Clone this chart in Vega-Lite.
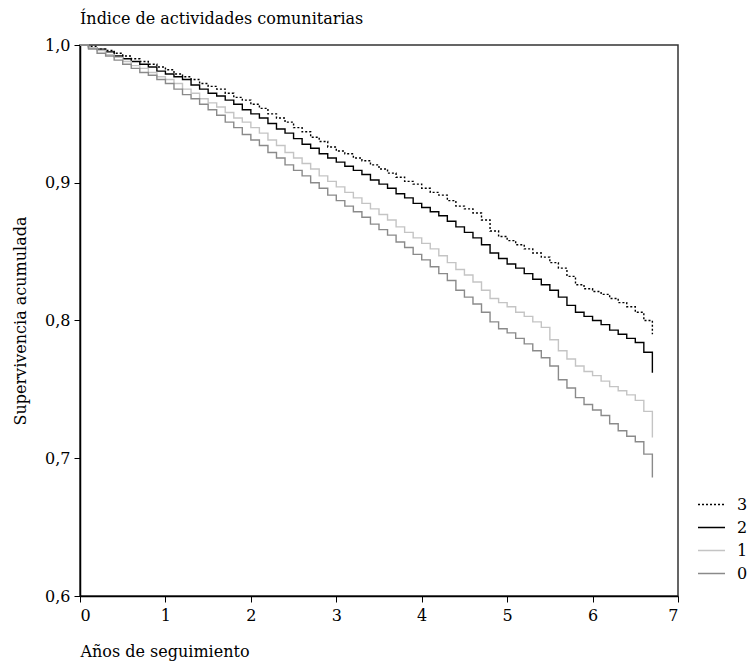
{
  "$schema": "https://vega.github.io/schema/vega-lite/v6.json",
  "autosize": {"type": "none"},
  "padding": {"left": 80, "top": 45, "right": 70, "bottom": 65},
  "width": 598,
  "height": 551,
  "background": "white",
  "title": {"text": "Índice de actividades comunitarias", "anchor": "start", "frame": "group", "offset": 10, "font": "DejaVu Serif", "fontSize": 16, "fontWeight": "normal", "color": "black"},
  "config": {
    "view": {"stroke": "#333333", "strokeWidth": 1.5},
    "axis": {"labelFont": "DejaVu Serif", "labelFontSize": 16, "labelColor": "black", "titleFont": "DejaVu Serif", "titleFontSize": 16, "titleFontWeight": "normal", "titleColor": "black", "domainColor": "black", "domainWidth": 1.5, "tickColor": "black", "tickSize": 6, "grid": false}
  },
  "data": {"values": [
    {"t":0.0,"3":1.000,"2":1.000,"1":1.000,"0":1.000},
    {"t":0.1,"3":0.999,"2":0.998,"1":0.998,"0":0.997},
    {"t":0.2,"3":0.997,"2":0.997,"1":0.996,"0":0.994},
    {"t":0.3,"3":0.996,"2":0.995,"1":0.993,"0":0.992},
    {"t":0.4,"3":0.994,"2":0.992,"1":0.991,"0":0.989},
    {"t":0.5,"3":0.992,"2":0.990,"1":0.988,"0":0.986},
    {"t":0.6,"3":0.990,"2":0.988,"1":0.985,"0":0.983},
    {"t":0.7,"3":0.988,"2":0.986,"1":0.983,"0":0.980},
    {"t":0.8,"3":0.986,"2":0.984,"1":0.980,"0":0.978},
    {"t":0.9,"3":0.984,"2":0.981,"1":0.977,"0":0.975},
    {"t":1.0,"3":0.982,"2":0.979,"1":0.975,"0":0.972},
    {"t":1.1,"3":0.979,"2":0.977,"1":0.972,"0":0.968},
    {"t":1.2,"3":0.977,"2":0.975,"1":0.968,"0":0.964},
    {"t":1.3,"3":0.975,"2":0.971,"1":0.965,"0":0.961},
    {"t":1.4,"3":0.972,"2":0.968,"1":0.961,"0":0.957},
    {"t":1.5,"3":0.970,"2":0.965,"1":0.958,"0":0.953},
    {"t":1.6,"3":0.968,"2":0.963,"1":0.955,"0":0.949},
    {"t":1.7,"3":0.965,"2":0.960,"1":0.951,"0":0.944},
    {"t":1.8,"3":0.962,"2":0.957,"1":0.947,"0":0.940},
    {"t":1.9,"3":0.960,"2":0.953,"1":0.944,"0":0.935},
    {"t":2.0,"3":0.957,"2":0.950,"1":0.940,"0":0.931},
    {"t":2.1,"3":0.954,"2":0.947,"1":0.936,"0":0.927},
    {"t":2.2,"3":0.950,"2":0.943,"1":0.931,"0":0.922},
    {"t":2.3,"3":0.947,"2":0.939,"1":0.927,"0":0.918},
    {"t":2.4,"3":0.944,"2":0.936,"1":0.922,"0":0.913},
    {"t":2.5,"3":0.940,"2":0.932,"1":0.918,"0":0.909},
    {"t":2.6,"3":0.937,"2":0.928,"1":0.914,"0":0.905},
    {"t":2.7,"3":0.933,"2":0.925,"1":0.910,"0":0.900},
    {"t":2.8,"3":0.930,"2":0.921,"1":0.905,"0":0.896},
    {"t":2.9,"3":0.926,"2":0.918,"1":0.901,"0":0.891},
    {"t":3.0,"3":0.923,"2":0.915,"1":0.897,"0":0.887},
    {"t":3.1,"3":0.921,"2":0.912,"1":0.893,"0":0.883},
    {"t":3.2,"3":0.918,"2":0.909,"1":0.889,"0":0.879},
    {"t":3.3,"3":0.916,"2":0.906,"1":0.885,"0":0.875},
    {"t":3.4,"3":0.913,"2":0.902,"1":0.881,"0":0.870},
    {"t":3.5,"3":0.910,"2":0.899,"1":0.877,"0":0.866},
    {"t":3.6,"3":0.907,"2":0.896,"1":0.873,"0":0.862},
    {"t":3.7,"3":0.904,"2":0.892,"1":0.868,"0":0.857},
    {"t":3.8,"3":0.901,"2":0.889,"1":0.864,"0":0.853},
    {"t":3.9,"3":0.899,"2":0.885,"1":0.860,"0":0.848},
    {"t":4.0,"3":0.896,"2":0.882,"1":0.856,"0":0.844},
    {"t":4.1,"3":0.893,"2":0.879,"1":0.852,"0":0.839},
    {"t":4.2,"3":0.891,"2":0.876,"1":0.847,"0":0.834},
    {"t":4.3,"3":0.887,"2":0.872,"1":0.842,"0":0.829},
    {"t":4.4,"3":0.883,"2":0.868,"1":0.837,"0":0.822},
    {"t":4.5,"3":0.881,"2":0.864,"1":0.833,"0":0.817},
    {"t":4.6,"3":0.878,"2":0.860,"1":0.828,"0":0.812},
    {"t":4.7,"3":0.873,"2":0.855,"1":0.822,"0":0.806},
    {"t":4.8,"3":0.865,"2":0.849,"1":0.816,"0":0.799},
    {"t":4.9,"3":0.861,"2":0.845,"1":0.813,"0":0.794},
    {"t":5.0,"3":0.858,"2":0.841,"1":0.810,"0":0.791},
    {"t":5.1,"3":0.855,"2":0.838,"1":0.806,"0":0.787},
    {"t":5.2,"3":0.852,"2":0.834,"1":0.803,"0":0.783},
    {"t":5.3,"3":0.849,"2":0.830,"1":0.799,"0":0.778},
    {"t":5.4,"3":0.846,"2":0.826,"1":0.795,"0":0.773},
    {"t":5.5,"3":0.842,"2":0.822,"1":0.786,"0":0.767},
    {"t":5.6,"3":0.838,"2":0.817,"1":0.778,"0":0.757},
    {"t":5.7,"3":0.832,"2":0.811,"1":0.772,"0":0.751},
    {"t":5.8,"3":0.826,"2":0.806,"1":0.767,"0":0.744},
    {"t":5.9,"3":0.823,"2":0.803,"1":0.763,"0":0.739},
    {"t":6.0,"3":0.821,"2":0.800,"1":0.760,"0":0.735},
    {"t":6.1,"3":0.819,"2":0.797,"1":0.756,"0":0.731},
    {"t":6.2,"3":0.816,"2":0.793,"1":0.752,"0":0.725},
    {"t":6.3,"3":0.813,"2":0.790,"1":0.749,"0":0.720},
    {"t":6.4,"3":0.810,"2":0.787,"1":0.746,"0":0.716},
    {"t":6.5,"3":0.806,"2":0.784,"1":0.742,"0":0.712},
    {"t":6.6,"3":0.800,"2":0.777,"1":0.734,"0":0.703},
    {"t":6.7,"3":0.790,"2":0.762,"1":0.715,"0":0.686}
  ]},
  "transform": [{"fold": ["3", "2", "1", "0"], "as": ["grupo", "s"]}],
  "mark": {"type": "line", "interpolate": "step-after", "strokeWidth": 1.4},
  "encoding": {
    "x": {"field": "t", "type": "quantitative", "scale": {"domain": [0, 7], "nice": false, "zero": false},
      "axis": {"values": [0,1,2,3,4,5,6,7], "format": "d", "title": "Años de seguimiento", "titleAnchor": "start", "titleAlign": "left", "titlePadding": 20, "labelPadding": 5}},
    "y": {"field": "s", "type": "quantitative", "scale": {"domain": [0.6, 1.0], "nice": false, "zero": false},
      "axis": {"values": [0.6,0.7,0.8,0.9,1.0], "format": ".1f", "labelExpr": "replace(datum.label, '.', ',')", "title": "Supervivencia acumulada", "titlePadding": 16, "labelPadding": 4}},
    "color": {"field": "grupo", "type": "nominal",
      "scale": {"domain": ["3", "2", "1", "0"], "range": ["#000000", "#000000", "#c4c4c4", "#8a8a8a"]},
      "legend": {"title": null, "orient": "none", "legendX": 617, "legendY": 445, "symbolType": "stroke", "symbolSize": 729, "symbolStrokeWidth": 1.5, "labelFont": "DejaVu Serif", "labelFontSize": 16, "labelColor": "black", "rowPadding": -1, "labelOffset": 11}},
    "strokeDash": {"field": "grupo", "type": "nominal",
      "scale": {"domain": ["3", "2", "1", "0"], "range": [[2, 2], [1, 0], [1, 0], [1, 0]]},
      "legend": {"title": null, "orient": "none", "legendX": 617, "legendY": 445, "symbolType": "stroke", "symbolSize": 729, "symbolStrokeWidth": 1.5, "labelFont": "DejaVu Serif", "labelFontSize": 16, "labelColor": "black", "rowPadding": -1, "labelOffset": 11}}
  }
}
